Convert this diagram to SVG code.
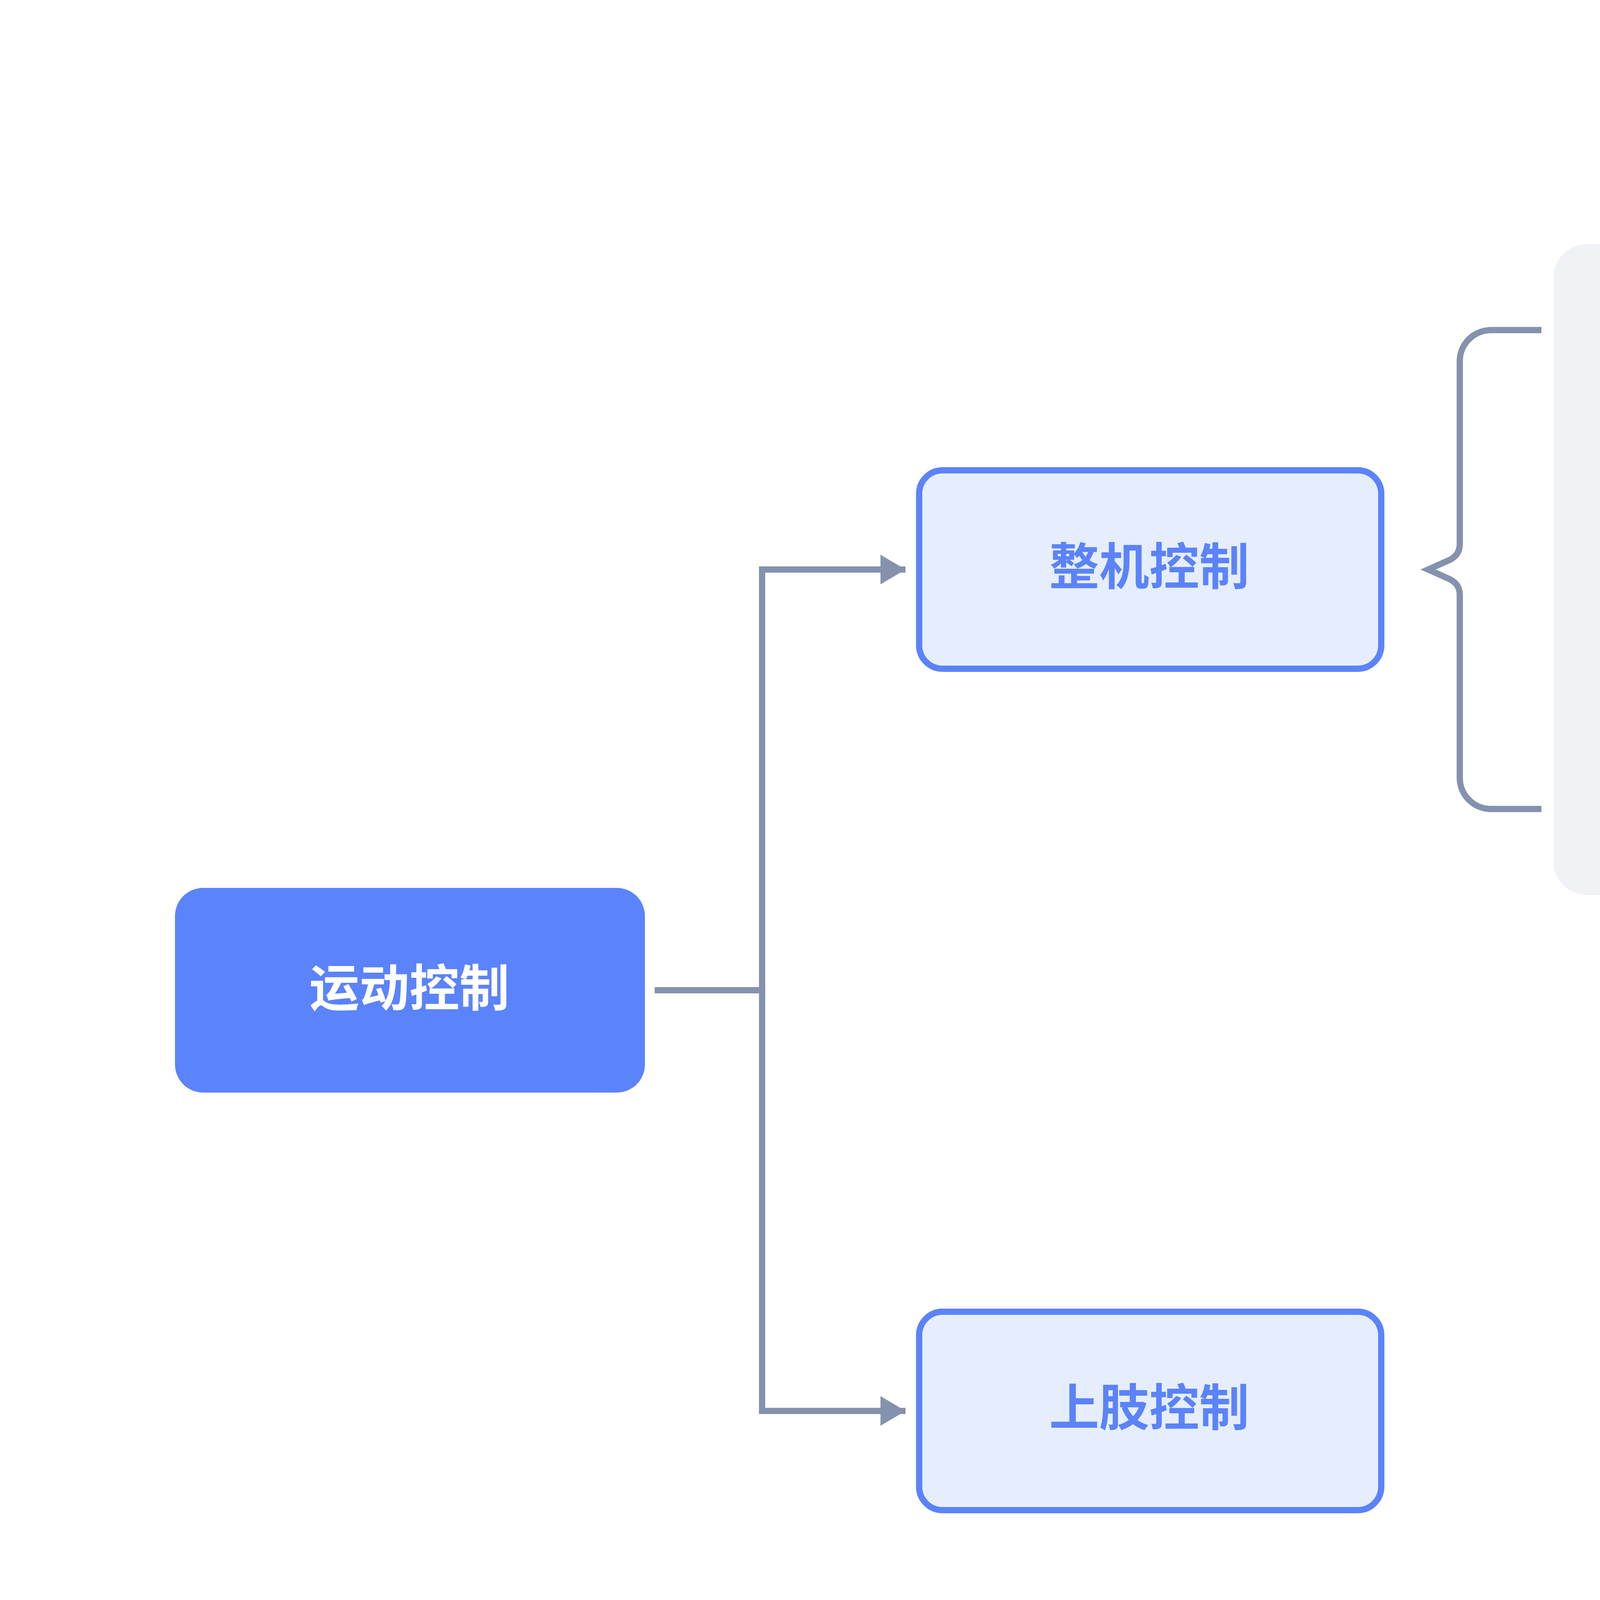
<svg xmlns="http://www.w3.org/2000/svg" width="6181" height="4500" viewBox="0 0 6181 4500">
<style>
.t{font-family:"Noto Sans CJK SC","Noto Sans",sans-serif;font-weight:700;text-anchor:middle}
.big{font-size:128px}
.sm{font-size:84px}
.conn{fill:none;stroke:#8592AE;stroke-width:16}
.sub{fill:#E6EEFE;stroke:#5B83FB;stroke-width:16}
.item{fill:#E1E8FA}
</style>
<defs>
<marker id="ah" markerUnits="userSpaceOnUse" markerWidth="64" markerHeight="76" refX="64" refY="38" orient="auto">
<path d="M0,0 L64,38 L0,76 Z" fill="#8592AE"/>
</marker>
</defs>
<rect width="6181" height="4500" fill="#FFFFFF"/>
<g id="panel">
<rect x="3977" y="625" width="1753" height="1666" rx="85" ry="85" fill="#F1F2F6"/>
</g>
<g id="connectors">
<path class="conn" d="M1676,2535 H1951"/>
<path class="conn" d="M1951,2535 V1458 H2318" marker-end="url(#ah)"/>
<path class="conn" d="M1951,2535 V3612 H2318" marker-end="url(#ah)"/>
<path class="conn" stroke-linejoin="miter" d="M3946,845 H3817 A80,80 0 0 0 3737,925 V1393 Q3737,1420 3712,1433 L3656,1458 L3712,1483 Q3737,1496 3737,1523 V1991 A80,80 0 0 0 3817,2071 H3946"/>
</g>
<g id="node-main">
<rect x="448" y="2273" width="1203" height="524" rx="72" ry="72" fill="#5B83FB"/>
<text class="t big" x="1048" y="2576" fill="#FFFFFF">运动控制</text>
</g>
<g id="node-whole">
<rect class="sub" x="2353" y="1204" width="1183" height="508" rx="60" ry="60"/>
<text class="t big" x="2942" y="1497" fill="#5B83FB">整机控制</text>
</g>
<g id="node-upper">
<rect class="sub" x="2353" y="3358" width="1183" height="508" rx="60" ry="60"/>
<text class="t big" x="2942" y="3650" fill="#5B83FB">上肢控制</text>
</g>
<g id="item-1">
<rect class="item" x="4157" y="784" width="1393" height="363" rx="70" ry="70"/>
<text class="t sm" x="4836" y="989" fill="#5B83FB">状态切换</text>
</g>
<g id="item-2">
<rect class="item" x="4157" y="1276" width="1393" height="364" rx="70" ry="70"/>
<text class="t sm" x="4836" y="1480" fill="#5B83FB">速度控制</text>
</g>
<g id="item-3">
<rect class="item" x="4157" y="1768" width="1393" height="364" rx="70" ry="70"/>
<text class="t sm" x="4836" y="1972" fill="#5B83FB">迈步高度调节</text>
</g>
</svg>
